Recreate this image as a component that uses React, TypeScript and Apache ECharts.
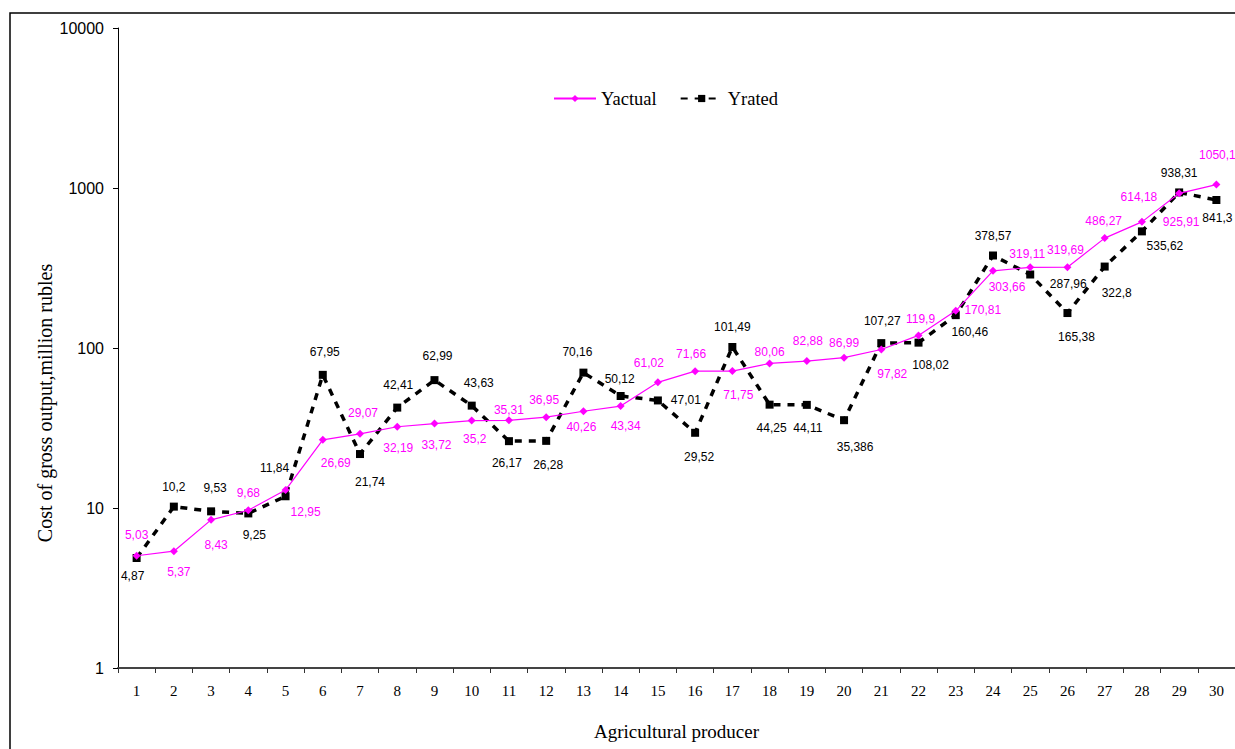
import React, { useEffect, useRef } from "react";
import * as echarts from "echarts";

const producers = ["1","2","3","4","5","6","7","8","9","10","11","12","13","14","15","16","17","18","19","20","21","22","23","24","25","26","27","28","29","30"];

const yActual = [5.03, 5.37, 8.43, 9.68, 12.95, 26.69, 29.07, 32.19, 33.72, 35.2, 35.31, 36.95, 40.26, 43.34, 61.02, 71.66, 71.75, 80.06, 82.88, 86.99, 97.82, 119.9, 170.81, 303.66, 319.11, 319.69, 486.27, 614.18, 925.91, 1050.1];

const yRated = [4.87, 10.2, 9.53, 9.25, 11.84, 67.95, 21.74, 42.41, 62.99, 43.63, 26.17, 26.28, 70.16, 50.12, 47.01, 29.52, 101.49, 44.25, 44.11, 35.386, 107.27, 108.02, 160.46, 378.57, 287.96, 165.38, 322.8, 535.62, 938.31, 841.3];

const yTicks = [1, 10, 100, 1000, 10000];

const yTitle = "Cost of gross output,million rubles";
const xTitle = "Agricultural producer";

// label offsets relative to each point (label placement only)
const actualLabelOffsets = [
  [0, -21], [5, 21], [5, 25], [0, -17], [20, 22], [13, 23], [3, -21], [1, 21], [2, 21], [3, 18],
  [0, -10], [-2, -17], [-2, 16], [5, 20], [-9, -19], [-4, -17], [6, 24], [0, -11], [1, -20], [0, -15],
  [11, 24], [2, -16], [27, -1], [14, 16], [-3, -13], [-2, -17], [-1, -17], [-3, -25], [2, 29], [1, -30],
];
const ratedLabelOffsets = [
  [-4, 18], [0, -20], [4, -23], [6, 22], [-11, -28], [2, -23], [10, 28], [1, -23], [3, -24], [7, -23],
  [-2, 22], [2, 24], [-6, -21], [-1, -17], [28, 0], [4, 24], [0, -20], [2, 23], [1, 23], [11, 27],
  [1, -22], [12, 22], [14, 17], [0, -19], [38, 9], [9, 24], [12, 26], [23, 15], [0, -19], [1, 18],
];

const fmt = (v: number) => String(v).replace(".", ",");

export default function App() {
  const ref = useRef<HTMLDivElement>(null);
  useEffect(() => {
    if (!ref.current) return;
    const chart = echarts.init(ref.current, undefined, { renderer: "svg" });
    const sans = "'Liberation Sans', Arial, sans-serif";
    const serif = "'Liberation Serif', 'Times New Roman', serif";
    chart.setOption({
      animation: false,
      backgroundColor: "#ffffff",
      graphic: [
        {
          type: "rect",
          shape: { x: 10, y: 13, width: 1300, height: 800 },
          style: { fill: "none", stroke: "#000", lineWidth: 1.5 },
          silent: true,
          z: 0,
        },
        {
          type: "text",
          x: 45,
          y: 403,
          rotation: Math.PI / 2,
          silent: true,
          style: {
            text: yTitle,
            fontFamily: serif,
            fontSize: 20,
            fill: "#000",
            align: "center",
            verticalAlign: "middle",
          },
        },
      ],
      legend: {
        data: ["Yactual", "Yrated"],
        left: 553,
        top: 89,
        padding: 0,
        itemWidth: 42,
        itemHeight: 9,
        itemGap: 23,
        textStyle: { fontFamily: serif, fontSize: 18.5, color: "#000" },
      },
      grid: { left: 118, top: 28, width: 1122, height: 640, containLabel: false },
      xAxis: {
        type: "category",
        data: producers,
        boundaryGap: true,
        name: xTitle,
        nameLocation: "middle",
        nameGap: 54,
        nameTextStyle: { fontFamily: serif, fontSize: 19, color: "#000" },
        axisLine: { lineStyle: { color: "#444", width: 2 } },
        axisTick: { show: true, interval: 0, length: 5, lineStyle: { color: "#333" } },
        axisLabel: { interval: 0, margin: 15, fontFamily: serif, fontSize: 15, color: "#000" },
        splitLine: { show: false },
      },
      yAxis: {
        type: "log",
        logBase: 10,
        min: yTicks[0],
        max: yTicks[yTicks.length - 1],
        axisLine: { show: true, lineStyle: { color: "#000", width: 1 } },
        axisTick: { show: true, length: 5, lineStyle: { color: "#000" } },
        axisLabel: {
          margin: 14,
          fontFamily: sans,
          fontSize: 16,
          color: "#000",
          formatter: (v: number) => String(Math.round(v)),
        },
        splitLine: { show: false },
      },
      series: [
        {
          name: "Yrated",
          type: "line",
          data: yRated.map((v, i) => ({ value: v, label: { offset: ratedLabelOffsets[i] } })),
          symbol: "rect",
          symbolSize: 8,
          itemStyle: { color: "#000" },
          lineStyle: { color: "#000", width: 3.5, type: [7, 7] },
          label: {
            show: true,
            position: "inside",
            formatter: (p: any) => fmt(p.value),
            fontFamily: sans,
            fontSize: 12,
            color: "#000",
          },
          z: 2,
        },
        {
          name: "Yactual",
          type: "line",
          data: yActual.map((v, i) => ({ value: v, label: { offset: actualLabelOffsets[i] } })),
          symbol: "diamond",
          symbolSize: 8,
          itemStyle: { color: "#ff00ff" },
          lineStyle: { color: "#ff00ff", width: 1.2 },
          label: {
            show: true,
            position: "inside",
            formatter: (p: any) => fmt(p.value),
            fontFamily: sans,
            fontSize: 12,
            color: "#ff00ff",
          },
          z: 3,
        },
      ],
    });
    return () => chart.dispose();
  }, []);
  return (
    <div
      ref={ref}
      style={{ position: "fixed", left: 0, top: 0, width: 1235, height: 749, background: "#fff" }}
    />
  );
}
